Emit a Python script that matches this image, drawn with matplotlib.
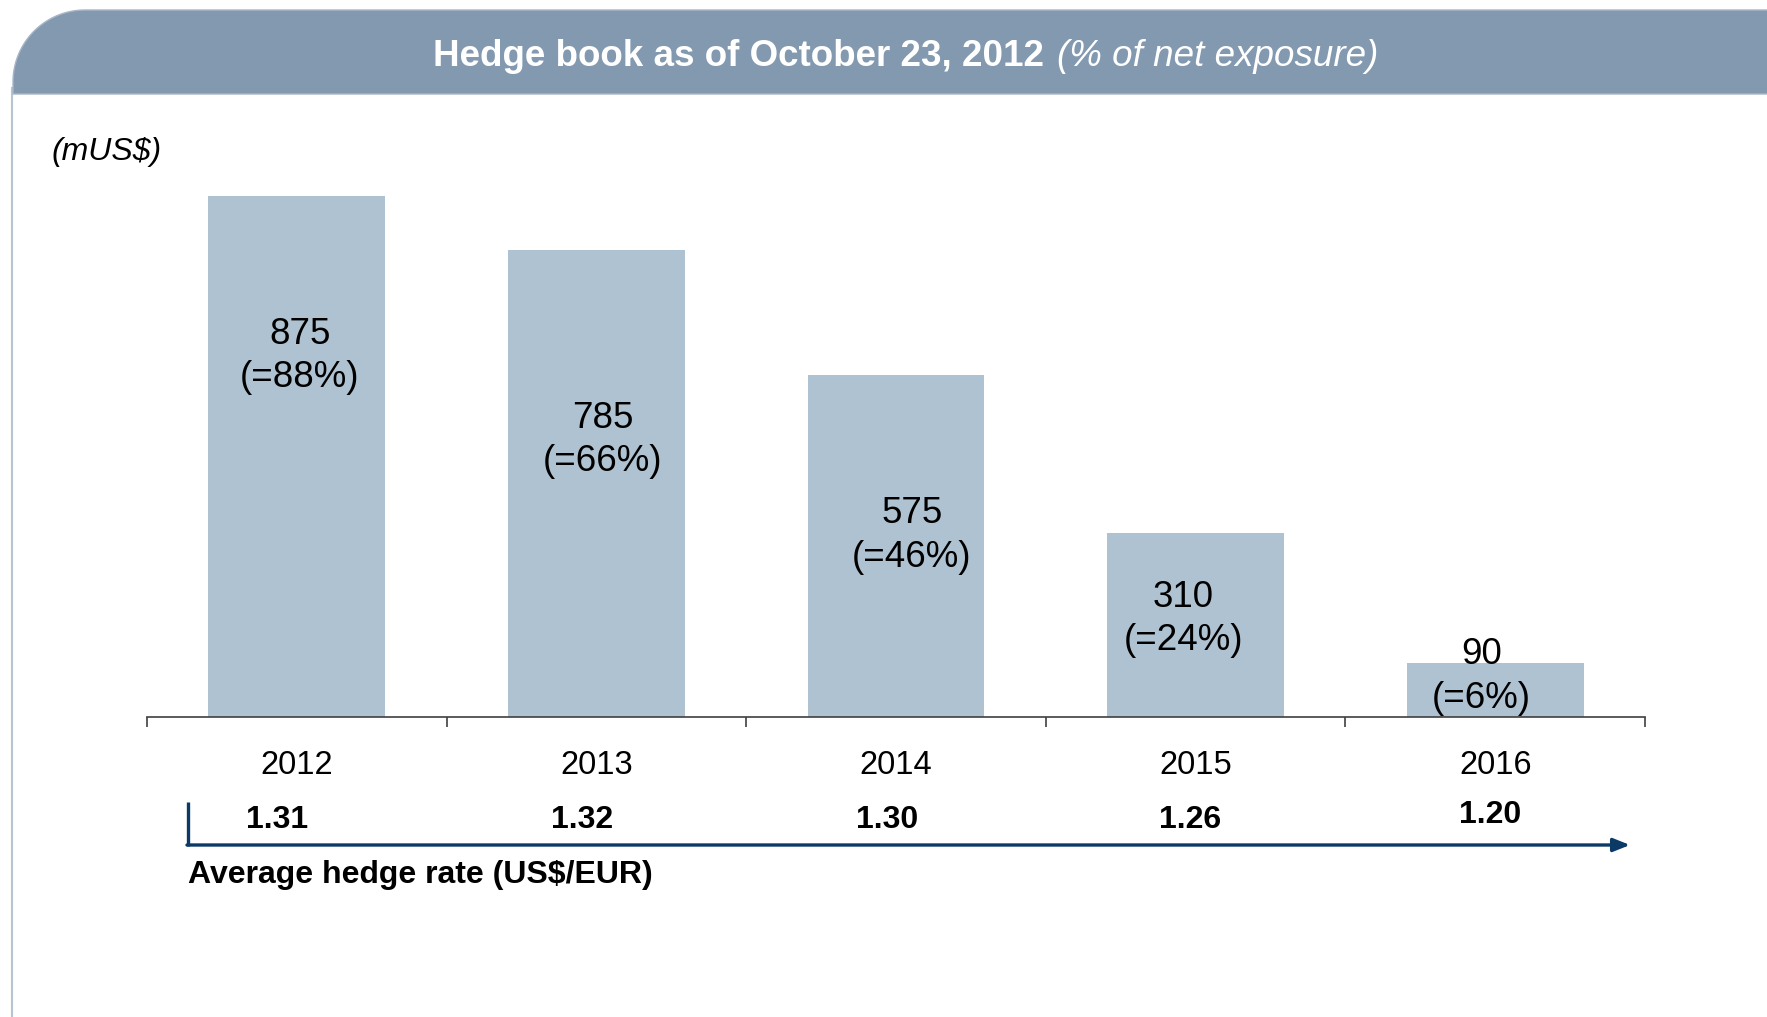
import numpy as np
import matplotlib
matplotlib.use("Agg")
import matplotlib.pyplot as plt
from matplotlib.patches import Polygon

plt.rcParams['font.family'] = ['Liberation Sans', 'DejaVu Sans']

# ---- data ----
years = ["2012", "2013", "2014", "2015", "2016"]
hedged = [875, 785, 575, 310, 90]
pct_exposure = [88, 66, 46, 24, 6]
hedge_rates = ["1.31", "1.32", "1.30", "1.26", "1.20"]

# label placement (style): height of label centre in data units, x nudge
label_y = [606, 465, 305, 164, 68]
label_dx = [0.01, 0.022, 0.053, -0.04, -0.045]
rate_dx = [-0.067, -0.047, -0.03, -0.017, -0.017]

W, H = 1767, 1017
fig = plt.figure(figsize=(W / 100, H / 100), dpi=100)
fig.patch.set_facecolor("white")

# background axes in pixel coordinates
bg = fig.add_axes([0, 0, 1, 1])
bg.set_xlim(0, W)
bg.set_ylim(H, 0)
bg.axis("off")

# header band with rounded top-left corner
r = 72
x0, y0, y1 = 13, 10, 94
th = np.linspace(np.pi, 1.5 * np.pi, 40)
arc = np.column_stack([x0 + r + r * np.cos(th), y0 + r + r * np.sin(th)])
pts = np.vstack([[x0, y1], arc, [W + 5, y0], [W + 5, y1]])
bg.add_patch(Polygon(pts, closed=True, facecolor="#8299B0", edgecolor="#A9B6C6", lw=1.0, zorder=1))
# left frame line
bg.plot([12, 12], [88, H], color="#B8C5D1", lw=1.5, zorder=0)

# title
bg.text(1044, 56, "Hedge book as of October 23, 2012", color="white", fontsize=26.5,
        fontweight="bold", ha="right", va="center", zorder=3)
bg.text(1057, 56, "(% of net exposure)", color="white", fontsize=26.5,
        fontstyle="italic", ha="left", va="center", zorder=3)

# unit label
bg.text(51, 152, "(mUS$)", fontsize=23, fontstyle="italic", ha="left", va="center", color="black")

# chart axes
ax_left, ax_right, ax_bottom, ax_top = 147, 1645, 717, 122
ax = fig.add_axes([ax_left / W, (H - ax_bottom) / H, (ax_right - ax_left) / W,
                   (ax_bottom - ax_top) / H])
ax.set_facecolor("none")
x = np.arange(len(years))
ax.bar(x, hedged, width=0.59, color="#AFC2D1", zorder=1)
ax.set_xlim(-0.5, len(years) - 0.5)
ax.set_ylim(0, 1000)
for s in ["top", "right", "left"]:
    ax.spines[s].set_visible(False)
ax.spines["bottom"].set_color("#404040")
ax.spines["bottom"].set_linewidth(1.2)
ax.set_yticks([])
ax.set_xticks(x, years)
ax.tick_params(axis="x", which="major", length=0, pad=24, labelsize=23.5)
ax.set_xticks(np.arange(-0.5, len(years)), minor=True)
ax.tick_params(axis="x", which="minor", length=7, width=1.2, color="#404040", direction="out")

for i, (v, p) in enumerate(zip(hedged, pct_exposure)):
    ax.text(x[i] + label_dx[i], label_y[i], f"{v}\n(=%d%%)" % p, ha="center", va="center",
            fontsize=26.5, linespacing=1.3, color="black", zorder=3)

# hedge rates below axis
for i, rt in enumerate(hedge_rates):
    yy = -0.173 if i < 4 else -0.165
    ax.text(x[i] + rate_dx[i], yy, rt, transform=ax.get_xaxis_transform(), ha="center",
            va="center", fontsize=23, fontweight="bold", color="black", clip_on=False)

# bracket + arrow
navy = "#0B3A66"
bg.plot([188, 188], [802, 846], color=navy, lw=2.4, solid_capstyle="butt")
bg.annotate("", xy=(1630, 845), xytext=(187, 845),
            arrowprops=dict(arrowstyle="-|>,head_length=1.0,head_width=0.4", color=navy,
                            lw=2.4, shrinkA=0, shrinkB=0))
bg.text(188, 875, "Average hedge rate (US$/EUR)", fontsize=23, fontweight="bold",
        ha="left", va="center", color="black")

fig.savefig("out.png", dpi=100)
